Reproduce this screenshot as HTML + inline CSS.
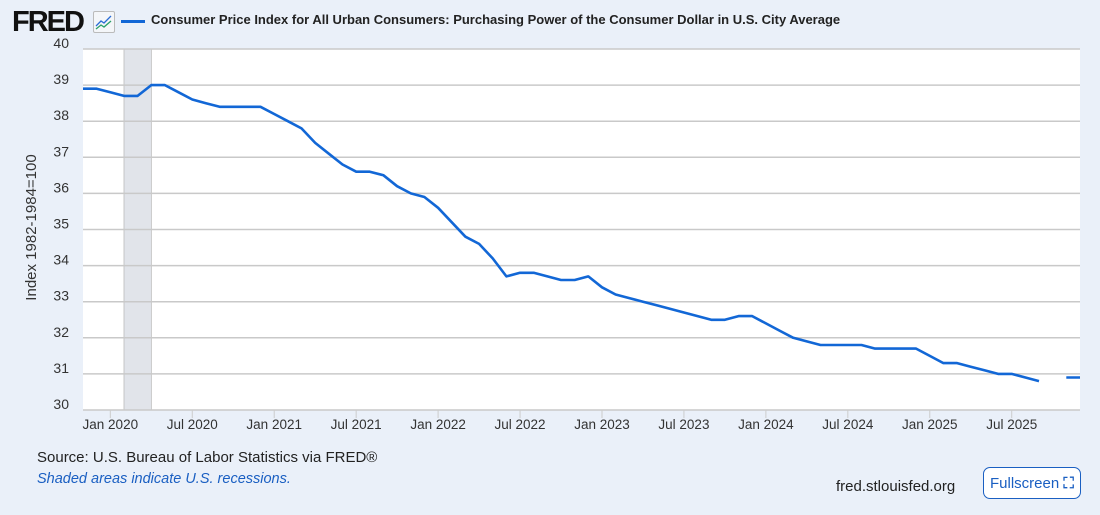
<!DOCTYPE html>
<html><head><meta charset="utf-8"><style>
body{margin:0;width:1100px;height:515px;background:#eaf0f9;font-family:"Liberation Sans",sans-serif;overflow:hidden;position:relative}
.t{position:absolute}
</style></head><body>
<div class="t" style="left:12px;top:6px;font-weight:bold;font-size:29px;letter-spacing:-2px;color:#111">FRED</div>
<div class="t" style="left:93px;top:11px;width:20px;height:20px;border:1px solid #bbb;background:#f4f6f9;border-radius:2px">
<svg width="20" height="20"><polyline points="2,14 7,9 10,11 17,4" fill="none" stroke="#2a6cd6" stroke-width="1.3"/><polyline points="2,17 7,13 10,15 17,9" fill="none" stroke="#2aa06a" stroke-width="1.3"/></svg></div>
<div class="t" style="left:121px;top:20px;width:24px;height:3px;background:#1267d6"></div>
<div class="t" style="left:151px;top:12px;font-size:13px;font-weight:bold;color:#222">Consumer Price Index for All Urban Consumers: Purchasing Power of the Consumer Dollar in U.S. City Average</div>
<svg id="c" class="t" style="left:0;top:0" width="1100" height="440"></svg>
<div class="t" style="left:37px;top:449px;font-size:15px;color:#222">Source: U.S. Bureau of Labor Statistics via FRED®</div>
<div class="t" style="left:37px;top:471px;font-size:14.5px;color:#1a5fc2;font-style:italic">Shaded areas indicate U.S. recessions.</div>
<div class="t" style="left:836px;top:478px;font-size:15px;color:#222">fred.stlouisfed.org</div>
<div class="t" style="left:983px;top:467px;width:98px;height:32px;border:1px solid #1a5fc2;border-radius:7px;background:#fff;color:#1a5fc2;font-size:15px;line-height:32px;box-sizing:border-box;padding-left:6px">Fullscreen <span style="font-weight:bold">⛶</span></div>
<script>
const months=["2019-11","2019-12","2020-01","2020-02","2020-03","2020-04","2020-05","2020-06","2020-07","2020-08","2020-09","2020-10","2020-11","2020-12","2021-01","2021-02","2021-03","2021-04","2021-05","2021-06","2021-07","2021-08","2021-09","2021-10","2021-11","2021-12","2022-01","2022-02","2022-03","2022-04","2022-05","2022-06","2022-07","2022-08","2022-09","2022-10","2022-11","2022-12","2023-01","2023-02","2023-03","2023-04","2023-05","2023-06","2023-07","2023-08","2023-09","2023-10","2023-11","2023-12","2024-01","2024-02","2024-03","2024-04","2024-05","2024-06","2024-07","2024-08","2024-09","2024-10","2024-11","2024-12","2025-01","2025-02","2025-03","2025-04","2025-05","2025-06","2025-07","2025-08","2025-09","2025-10","2025-11","2025-12"];
const values=[38.9,38.9,38.8,38.7,38.7,39.0,39.0,38.8,38.6,38.5,38.4,38.4,38.4,38.4,38.2,38.0,37.8,37.4,37.1,36.8,36.6,36.6,36.5,36.2,36.0,35.9,35.6,35.2,34.8,34.6,34.2,33.7,33.8,33.8,33.7,33.6,33.6,33.7,33.4,33.2,33.1,33.0,32.9,32.8,32.7,32.6,32.5,32.5,32.6,32.6,32.4,32.2,32.0,31.9,31.8,31.8,31.8,31.8,31.7,31.7,31.7,31.7,31.5,31.3,31.3,31.2,31.1,31.0,31.0,30.9,30.8,null,30.9,30.9];
const yTicks=[30,31,32,33,34,35,36,37,38,39,40];
const xTickLabels=["Jan 2020","Jul 2020","Jan 2021","Jul 2021","Jan 2022","Jul 2022","Jan 2023","Jul 2023","Jan 2024","Jul 2024","Jan 2025","Jul 2025"];
const xTickMonths=["2020-01","2020-07","2021-01","2021-07","2022-01","2022-07","2023-01","2023-07","2024-01","2024-07","2025-01","2025-07"];
const recessions=[["2020-02","2020-04"]];
const L=83,R=1080,T=49,B=410,ns="http://www.w3.org/2000/svg",svg=document.getElementById('c');
function mi(m){const[a,b]=m.split('-').map(Number);return a*12+b-1;}
const m0=mi(months[0]),m1=mi(months[months.length-1]);
const x=m=>L+(mi(m)-m0)/(m1-m0)*(R-L);
const y=v=>B-(v-30)/10*(B-T);
function el(t,a){const e=document.createElementNS(ns,t);for(const k in a)e.setAttribute(k,a[k]);svg.appendChild(e);return e;}
let bg=el('rect',{x:L,y:T,width:R-L,height:B-T,fill:'#fff'});


recessions.forEach(r=>{let e=el('rect',{x:x(r[0]),y:T,width:x(r[1])-x(r[0]),height:B-T,fill:'#e1e4ea',stroke:'#aaa','stroke-width':0.6});

});
yTicks.forEach(v=>{let g=el('line',{x1:L,x2:R,y1:y(v),y2:y(v),stroke:'#c9c9c9','stroke-width':1.5});


let t=el('text',{x:L-14,y:y(v)-1,'text-anchor':'end','font-size':14,fill:'#333'});t.textContent=v;

});
xTickMonths.forEach((m,i)=>{el('line',{x1:x(m),x2:x(m),y1:B,y2:B+8,stroke:'#ccc'});
let t=el('text',{x:x(m),y:B+19,'text-anchor':'middle','font-size':13.5,fill:'#333'});t.textContent=xTickLabels[i];

});
let yt=el('text',{transform:`translate(36,${(T+B)/2-2}) rotate(-90)`,'text-anchor':'middle','font-size':15,fill:'#333'});yt.textContent='Index 1982-1984=100';


let d='',pen=false;
values.forEach((v,i)=>{if(v==null){pen=false;return;}d+=(pen?'L':'M')+x(months[i]).toFixed(1)+','+y(v).toFixed(1);pen=true;});
let p=el('path',{d:d,fill:'none',stroke:'#1267d6','stroke-width':2.6,'stroke-linejoin':'round'});


</script>
</body></html>
